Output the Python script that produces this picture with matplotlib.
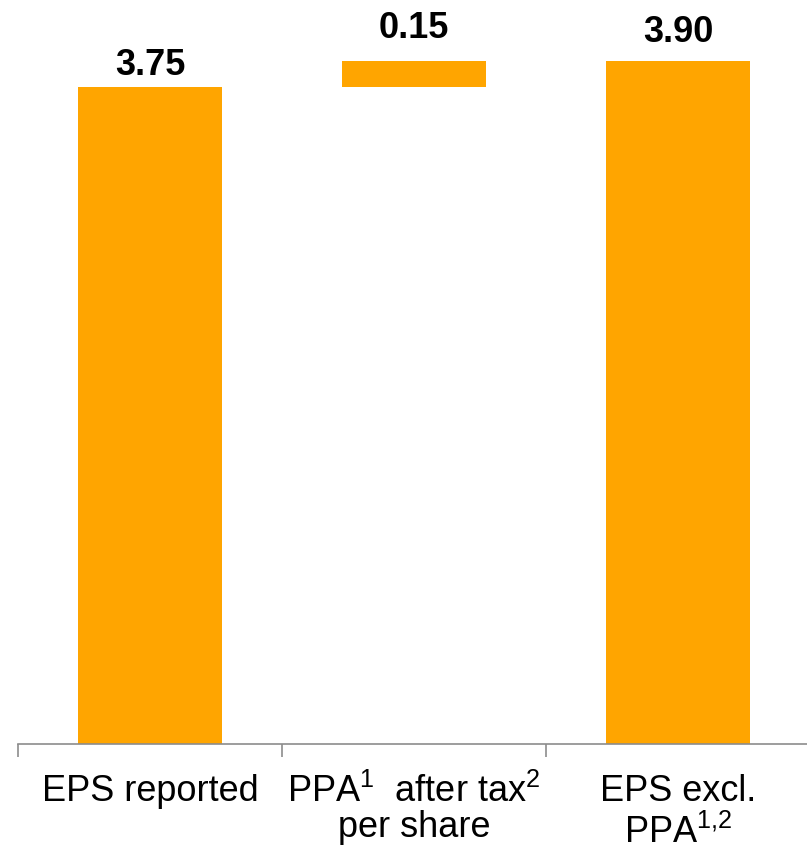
import numpy as np
import matplotlib
matplotlib.use('Agg')
import matplotlib.pyplot as plt

plt.rcParams['font.family'] = ['Liberation Sans', 'DejaVu Sans']
plt.rcParams['mathtext.fontset'] = 'custom'
plt.rcParams['mathtext.rm'] = 'Liberation Sans'
plt.rcParams['mathtext.default'] = 'regular'

categories = ['EPS reported', 'PPA$^1$  after tax$^2$\nper share', 'EPS excl.\nPPA$^{1{,}2}$']
values = [3.75, 0.15, 3.90]
bottoms = [0, 3.75, 0]

bar_color = '#FFA500'
axis_color = '#8C8C8C'

fig = plt.figure(figsize=(8.07, 8.53), dpi=100)
ax = fig.add_axes([18/807, 1 - 745/853, 792/807, 745/853])

x = np.arange(len(categories))
ax.bar(x, values, bottom=bottoms, width=0.545, color=bar_color, edgecolor='none')

# value labels, offsets in pixels above each bar top
offsets = [13, 24, 20]
for xi, v, b, off in zip(x, values, bottoms, offsets):
    ax.annotate(f'{v:.2f}', (xi, b + v), xytext=(0, off), textcoords='offset pixels',
                ha='center', va='baseline', fontsize=26, fontweight='bold', color='black')

ax.set_xlim(-0.5, 2.5)
ax.set_ylim(0, 745 / (683 / 3.90))

ax.set_xticks(x)
ax.set_xticklabels(categories, fontsize=26)
for lbl, ls in zip(ax.get_xticklabels(), [1.0, 1.0, 1.2]):
    lbl.set_linespacing(ls)
ax.set_xticks([-0.5, 0.5, 1.5, 2.5], minor=True)
ax.tick_params(axis='x', which='major', length=0, pad=21)
ax.tick_params(axis='x', which='minor', length=9, width=1.2, color=axis_color, direction='out')

for s in ['top', 'left', 'right']:
    ax.spines[s].set_visible(False)
ax.spines['bottom'].set_color(axis_color)
ax.spines['bottom'].set_linewidth(1.2)
ax.set_yticks([])

fig.savefig('out.png', dpi=100)
